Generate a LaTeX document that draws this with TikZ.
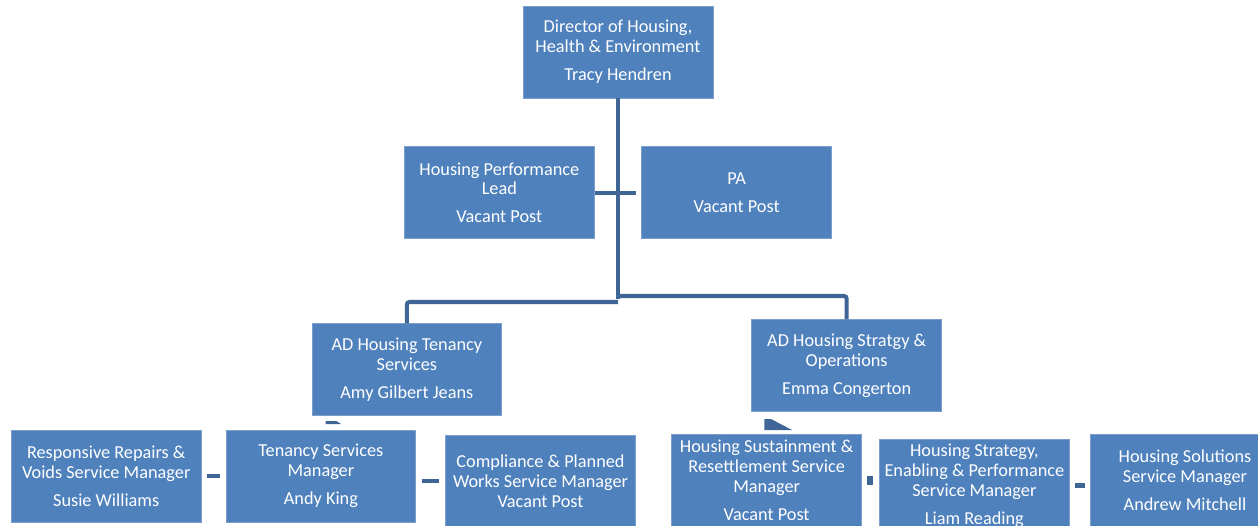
\documentclass[tikz,border=0pt]{standalone}
\usepackage{fontspec}
\setmainfont{Carlito}
\usetikzlibrary{
  calc,
  positioning
}
\definecolor{boxblue}{HTML}{4F81BD}
\definecolor{boxedge}{HTML}{7A9FCC}
\definecolor{linkblue}{HTML}{3F6596}
\newcommand{\role}[2]{#1\\[1.6mm]#2}
\tikzset{
  post/.style={
    draw=boxedge,
    fill=boxblue,
    text=white,
    line width=0.4pt,
    minimum width=3.8cm,
    minimum height=1.84cm,
    inner sep=1pt,
    align=center,
    font=\fontsize{10.4}{11.3}\selectfont
  },
  link/.style={
    draw=linkblue,
    line width=2.3pt,
    rounded corners=1.5pt
  },
  stub/.style={
    draw=linkblue,
    line width=2.6pt
  }
}

\begin{document}
\begin{tikzpicture}[x=0.02cm, y=-0.02cm, node distance=4mm]
  \useasboundingbox (0,0) rectangle (1258,526);
  \clip (0,0) rectangle (1258,526);

  \node[post] (dir) at (618,52) {\role{Director of Housing,\\Health \& Environment}{Tracy Hendren}};
  \node[post, below left=9.6mm and -14.4mm of dir] (hpl) {\role{Housing Performance\\Lead}{Vacant Post}};
  \node[post, below right=9.6mm and -14.4mm of dir] (pa) {\role{PA}{Vacant Post}};

  % assistant directors
  \node[post, below=16.9mm of hpl, xshift=-18.5mm] (adt) {\role{AD Housing Tenancy\\Services}{Amy Gilbert Jeans}};
  \node[post, below=16.1mm of pa, xshift=22mm] (ads) {\role{AD Housing Stratgy \&\\Operations}{Emma Congerton}};

  % tenancy services team
  \node[post, below=2.7mm of adt, xshift=-17.2mm] (ten) {\role{Tenancy Services\\Manager}{Andy King}};
  \node[post, left=4.8mm of ten] (resp) {\role{Responsive Repairs \&\\Voids Service Manager}{Susie Williams}};
  \node[post, right=5.8mm of ten, yshift=-1mm] (comp) {Compliance \& Planned\\Works Service Manager\\Vacant Post};

  % strategy and operations team
  \node[post, below=4.4mm of ads, xshift=-16mm] (sust) {\role{Housing Sustainment \&\\Resettlement Service\\Manager}{Vacant Post}};
  \node[post, right=3.4mm of sust, yshift=-1mm] (strat) {\role{Housing Strategy,\\Enabling \& Performance\\Service Manager}{Liam Reading}};
  \node[post, right=4mm of strat, yshift=1mm] (sol) {\role{Housing Solutions\\Service Manager}{Andrew Mitchell}};

  \coordinate (split) at (618,299);
  \draw[link] (dir.south) -- (split);
  \draw[link, shorten >=1mm] (hpl.east) -- (pa.west);
  \draw[link] ($(split)+(0,3)$) -| (adt.north);
  \draw[link] ($(split)+(0,-3)$) -| (ads.north);

  % loose pieces left under the assistant directors
  \fill[linkblue] ([shift={(14,5)}]adt.south west) -- ++(11,0) -- ++(5,3) -- ++(-16,0) -- cycle;
  \fill[linkblue] ([shift={(13,18)}]ads.south west) -- ++(0,-11) -- ++(7,0) -- ++(21,11) -- cycle;

  \draw[stub, shorten <=1mm, shorten >=1.2mm] (resp.east) -- (ten.west);
  \draw[stub, shorten <=1.2mm, shorten >=1.2mm] (ten.east |- comp.west) -- (comp.west);
  \draw[stub, line width=5pt, shorten <=1mm, shorten >=1.2mm] (sust.east) -- (sust.east -| strat.west);
  \draw[stub, shorten <=1mm, shorten >=1mm] (strat.east) -- (strat.east -| sol.west);
\end{tikzpicture}
\end{document}
